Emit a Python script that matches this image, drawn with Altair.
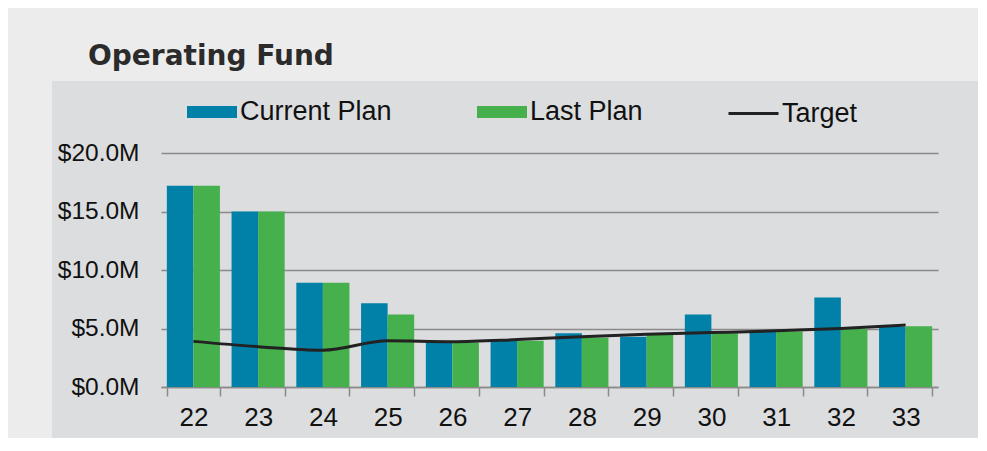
import altair as alt
import pandas as pd

TITLE = "Operating Fund"
years = ["22", "23", "24", "25", "26", "27", "28", "29", "30", "31", "32", "33"]
current_plan = [17.2, 15.0, 8.9, 7.15, 3.85, 4.0, 4.6, 4.3, 6.2, 4.8, 7.65, 5.15]
last_plan = [17.2, 15.0, 8.9, 6.2, 3.8, 3.95, 4.2, 4.45, 4.6, 4.75, 4.95, 5.2]
target = [3.9, 3.45, 3.15, 3.95, 3.87, 4.05, 4.3, 4.5, 4.65, 4.8, 5.0, 5.3]
series_names = ["Current Plan", "Last Plan"]
line_name = "Target"
y_ticks = [0, 5, 10, 15, 20]

BLUE = "#0180a8"
GREEN = "#45b04c"
LINE = "#222222"
OUTER = "#ececec"
PANEL = "#dcdddf"

bars = pd.DataFrame(
    [{"year": y, "series": series_names[0], "value": v} for y, v in zip(years, current_plan)]
    + [{"year": y, "series": series_names[1], "value": v} for y, v in zip(years, last_plan)]
)
line_df = pd.DataFrame({"year": years, "value": target, "series": [line_name] * len(years)})

W, H = 777, 234
FONT = "Liberation Sans"

xscale = alt.Scale(domain=years, paddingInner=0.18, paddingOuter=0.09)
yscale = alt.Scale(domain=[0, 20], nice=False)

one = pd.DataFrame({"a": [0]})
top_strip = alt.Chart(one).mark_rect(color=OUTER).encode(
    x=alt.value(-153), x2=alt.value(817), y=alt.value(-145), y2=alt.value(-72)
)
left_strip = alt.Chart(one).mark_rect(color=OUTER).encode(
    x=alt.value(-153), x2=alt.value(-109), y=alt.value(-72), y2=alt.value(285)
)

bar_layer = alt.Chart(bars).mark_bar().encode(
    x=alt.X(
        "year:N",
        scale=xscale,
        sort=years,
        axis=alt.Axis(
            title=None,
            labelAngle=0,
            labelFont=FONT,
            labelFontSize=26,
            labelColor="#111111",
            labelPadding=8,
            tickBand="extent",
            tickSize=9,
            tickColor="#8a8a8a",
            tickWidth=1.5,
            domainColor="#8a8a8a",
            domainWidth=1.5,
        ),
    ),
    xOffset=alt.XOffset("series:N", sort=series_names),
    y=alt.Y(
        "value:Q",
        scale=yscale,
        axis=alt.Axis(
            title=None,
            values=y_ticks,
            labelExpr="'$' + format(datum.value, '.1f') + 'M'",
            labelFont=FONT,
            labelFontSize=24.5,
            labelColor="#111111",
            labelPadding=22,
            domain=False,
            ticks=False,
            grid=True,
            gridColor="#8a8a8a",
            gridWidth=1.5,
        ),
    ),
    fill=alt.Fill(
        "series:N",
        scale=alt.Scale(domain=series_names, range=[BLUE, GREEN]),
        legend=alt.Legend(
            title=None,
            orient="none",
            direction="horizontal",
            legendX=26,
            legendY=-66,
            symbolType="M-1,-0.24L1,-0.24L1,0.24L-1,0.24Z",
            symbolSize=2500,
            symbolStrokeWidth=0,
            labelFont=FONT,
            labelFontSize=27,
            labelColor="#111111",
            labelOffset=3,
            columnPadding=85,
            padding=0,
        ),
    ),
)

line_layer = alt.Chart(line_df).mark_line(interpolate="monotone", strokeWidth=3).encode(
    x=alt.X("year:N", scale=xscale, sort=years),
    y=alt.Y("value:Q", scale=yscale),
    stroke=alt.Stroke(
        "series:N",
        scale=alt.Scale(domain=[line_name], range=[LINE]),
        legend=alt.Legend(
            title=None,
            orient="none",
            legendX=566,
            legendY=-66,
            symbolType="stroke",
            symbolSize=2500,
            symbolStrokeWidth=3,
            labelFont=FONT,
            labelFontSize=27,
            labelColor="#111111",
            labelOffset=2,
            padding=0,
        ),
    ),
)

title_layer = alt.Chart(pd.DataFrame({"t": [TITLE]})).mark_text(
    font="DejaVu Sans", fontSize=28, fontWeight="bold", color="#2b2b2b", align="left", baseline="alphabetic"
).encode(text="t:N", x=alt.value(-73), y=alt.value(-88))

chart = (
    alt.layer(top_strip, left_strip, bar_layer, line_layer, title_layer)
    .properties(
        width=W,
        height=H,
        background=PANEL,
        autosize=alt.AutoSizeParams(type="none"),
        padding={"left": 153, "top": 145, "right": 40, "bottom": 51},
    )
    .configure_view(stroke=None)
)

chart.save("out.html", embed_options={"renderer": "svg", "actions": False})
